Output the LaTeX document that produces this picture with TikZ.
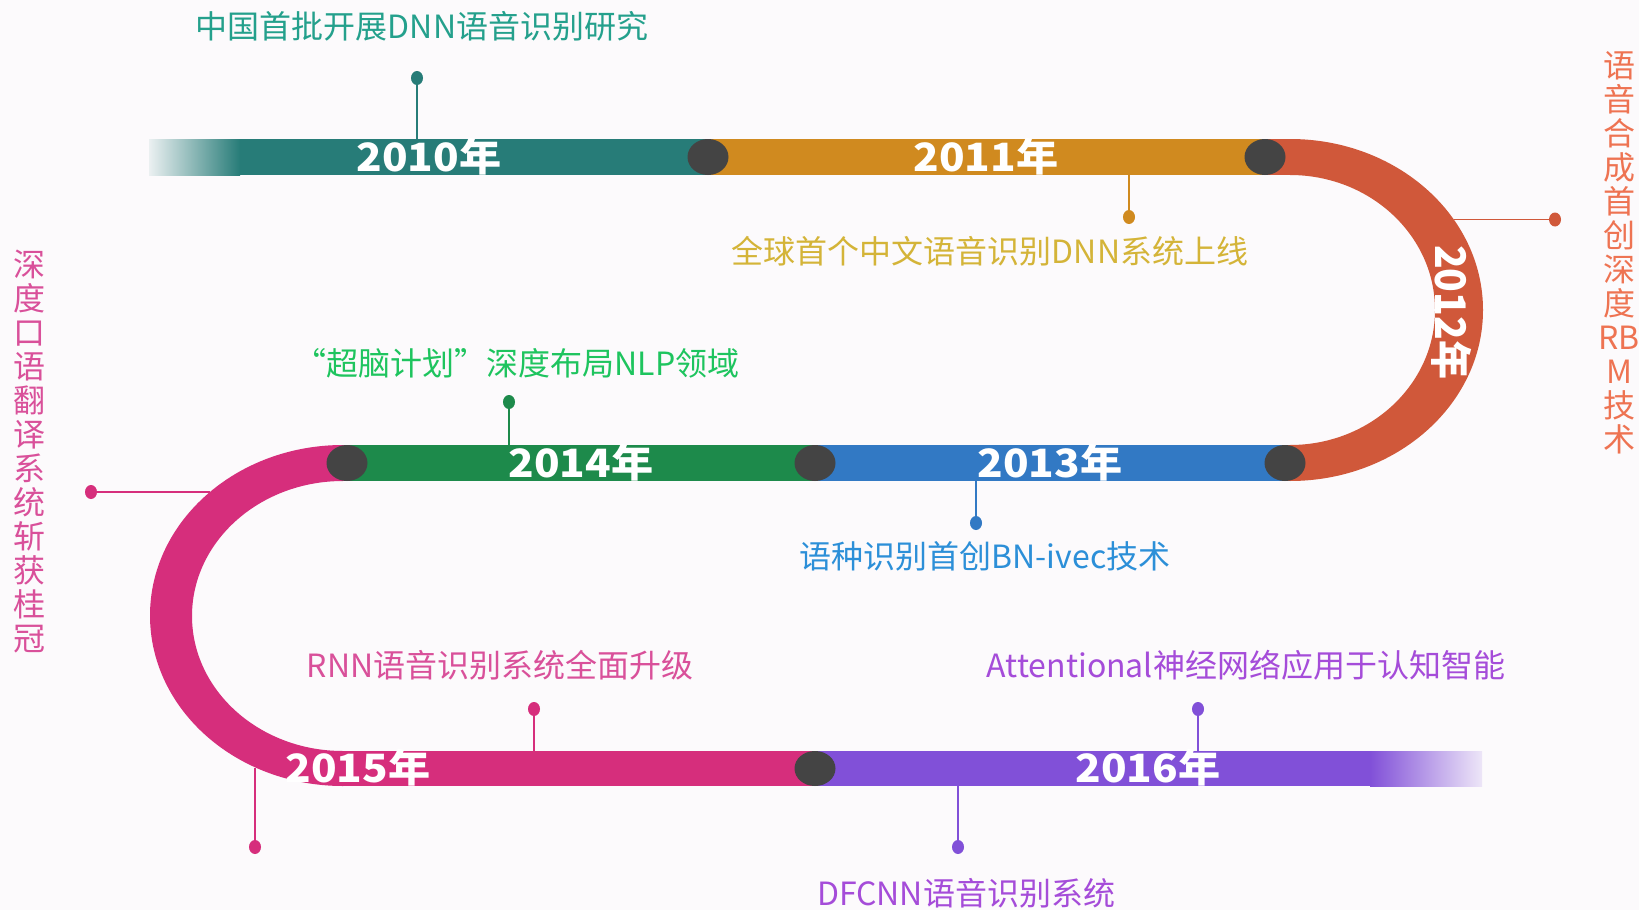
\documentclass[tikz,border=0pt]{standalone}
\usepackage{fontspec}
\setmainfont{Noto Sans CJK SC}
\usetikzlibrary{shapes.geometric}
\definecolor{bg}{HTML}{FCFAFC}
\definecolor{cteal}{HTML}{277C78}
\definecolor{corange}{HTML}{D08A1F}
\definecolor{cred}{HTML}{D0583A}
\definecolor{cblue}{HTML}{3279C4}
\definecolor{cgreen}{HTML}{1D8A4B}
\definecolor{cmag}{HTML}{D62E7C}
\definecolor{cpurple}{HTML}{8150D8}
\definecolor{knobgray}{HTML}{444444}
\definecolor{tteal}{HTML}{24A08C}
\definecolor{tgold}{HTML}{D4B438}
\definecolor{tred}{HTML}{EE7352}
\definecolor{tgreen}{HTML}{1EC45E}
\definecolor{tblue}{HTML}{2C8FD8}
\definecolor{tpink}{HTML}{D9509A}
\definecolor{tpurple}{HTML}{A54CD9}
\tikzset{
  year/.style={text=white, font=\fontsize{39}{39}\selectfont\bfseries, inner sep=0pt, anchor=base, xscale=1.08},
  lbl/.style={font=\fontsize{32}{32}\selectfont, inner sep=0pt},
  vlbl/.style={font=\fontsize{32}{34}\selectfont, align=center, inner sep=0pt},
  pin/.style={line width=1.8pt},
  dot/.style={ellipse, minimum width=12pt, minimum height=14pt, inner sep=0pt},
  knob/.style={fill=knobgray}
}
\begin{document}
\begin{tikzpicture}[x=1pt,y=-1pt]
\fill[bg] (0,0) rectangle (1639,910);
\useasboundingbox (0,0) rectangle (1639,910);

% ---- connectors and dots ----
\node[dot, fill=cteal] (d1) at (417,78) {};
\coordinate (e1) at (417,139);
\draw[pin, cteal] (d1) -- (e1);

\node[dot, fill=corange] (d2) at (1129,217) {};
\coordinate (e2) at (1129,175);
\draw[pin, corange] (d2) -- (e2);

\node[dot, fill=cred] (d3) at (1555,219.5) {};
\coordinate (e3) at (1454,219.5);
\draw[pin, cred] (d3) -- (e3);

\node[dot, fill=cgreen] (d4) at (509,402) {};
\coordinate (e4) at (509,445);
\draw[pin, cgreen] (d4) -- (e4);

\node[dot, fill=cblue] (d5) at (976,523) {};
\coordinate (e5) at (976,481);
\draw[pin, cblue] (d5) -- (e5);

\node[dot, fill=cmag] (d6) at (91,492) {};
\coordinate (e6) at (210,492);
\draw[pin, cmag] (d6) -- (e6);

\node[dot, fill=cmag] (d7) at (534,709) {};
\coordinate (e7) at (534,751);
\draw[pin, cmag] (d7) -- (e7);

\node[dot, fill=cpurple] (d8) at (1198,709) {};
\coordinate (e8) at (1198,751);
\draw[pin, cpurple] (d8) -- (e8);

\node[dot, fill=cpurple] (d9) at (958,847) {};
\coordinate (e9) at (958,786);
\draw[pin, cpurple] (d9) -- (e9);

\node[dot, fill=cmag] (d10) at (255,847) {};
\coordinate (e10) at (255,768);
\draw[pin, cmag] (d10) -- (e10);

% ---- bands ----
% top
\fill[cteal] (238,139) rectangle (708,175);
\shade[left color=cteal!8!bg, right color=cteal] (149,139) rectangle (240,175);
\fill[corange] (708,139) rectangle (1266,175);
\fill[cred] (1265,139) rectangle (1291,175);
% right arc
\begin{scope}
  \clip (1290,0) rectangle (1639,910);
  \fill[cred, even odd rule] (1290,310) ellipse [x radius=193, y radius=171]
                             (1290,310) ellipse [x radius=145, y radius=135];
\end{scope}
% middle
\fill[cred] (1285,445) rectangle (1291,481);
\fill[cblue] (815,445) rectangle (1286,481);
\fill[cgreen] (347,445) rectangle (816,481);
\fill[cmag] (342,445) rectangle (348,481);
% left arc
\begin{scope}
  \clip (0,0) rectangle (343,910);
  \fill[cmag, even odd rule] (343,615.5) ellipse [x radius=193, y radius=170.5]
                             (343,616) ellipse [x radius=151, y radius=135];
\end{scope}
% bottom
\fill[cmag] (342,751) rectangle (816,786);
\fill[cpurple] (815,751) rectangle (1371,786);
\shade[left color=cpurple, right color=cpurple!12!bg] (1370,751) rectangle (1482,786);

% ---- knobs ----
\fill[knob] (708,157) ellipse [x radius=20.5, y radius=18];
\fill[knob] (1265,157) ellipse [x radius=20.5, y radius=18];
\fill[knob] (347,463) ellipse [x radius=20.5, y radius=18];
\fill[knob] (815,463) ellipse [x radius=20.5, y radius=18];
\fill[knob] (1285,463) ellipse [x radius=20.5, y radius=18];
\fill[knob] (815,768.5) ellipse [x radius=20.5, y radius=17.5];

% ---- year labels ----
\node[year] (y2010) at (429,171) {2010年};
\node[year] (y2011) at (986,171) {2011年};
\node[year, anchor=center, rotate=-90] (y2012) at (1452,312) {2012年};
\node[year] (y2013) at (1050,477) {2013年};
\node[year] (y2014) at (581,477) {2014年};
\node[year] (y2015) at (358,782) {2015年};
\node[year] (y2016) at (1148,782) {2016年};

% ---- event labels ----
\node[lbl, text=tteal] (t1) at (422,26) {中国首批开展DNN语音识别研究};
\node[lbl, text=tgold] (t2) at (990,251) {全球首个中文语音识别DNN系统上线};
\node[vlbl, text=tred] (t3) at (1619,253) {语\\音\\合\\成\\首\\创\\深\\度\\RB\\M\\技\\术};
\node[lbl, text=tgreen] (t4) at (517,363) {“超脑计划”深度布局NLP领域};
\node[lbl, text=tblue] (t5) at (985,556) {语种识别首创BN-ivec技术};
\node[vlbl, text=tpink] (t6) at (29,452) {深\\度\\口\\语\\翻\\译\\系\\统\\斩\\获\\桂\\冠};
\node[lbl, text=tpink] (t7) at (500,665) {RNN语音识别系统全面升级};
\node[lbl, text=tpurple] (t8) at (1246,665) {Attentional神经网络应用于认知智能};
\node[lbl, text=tpurple] (t9) at (966,893) {DFCNN语音识别系统};
\end{tikzpicture}
\end{document}
